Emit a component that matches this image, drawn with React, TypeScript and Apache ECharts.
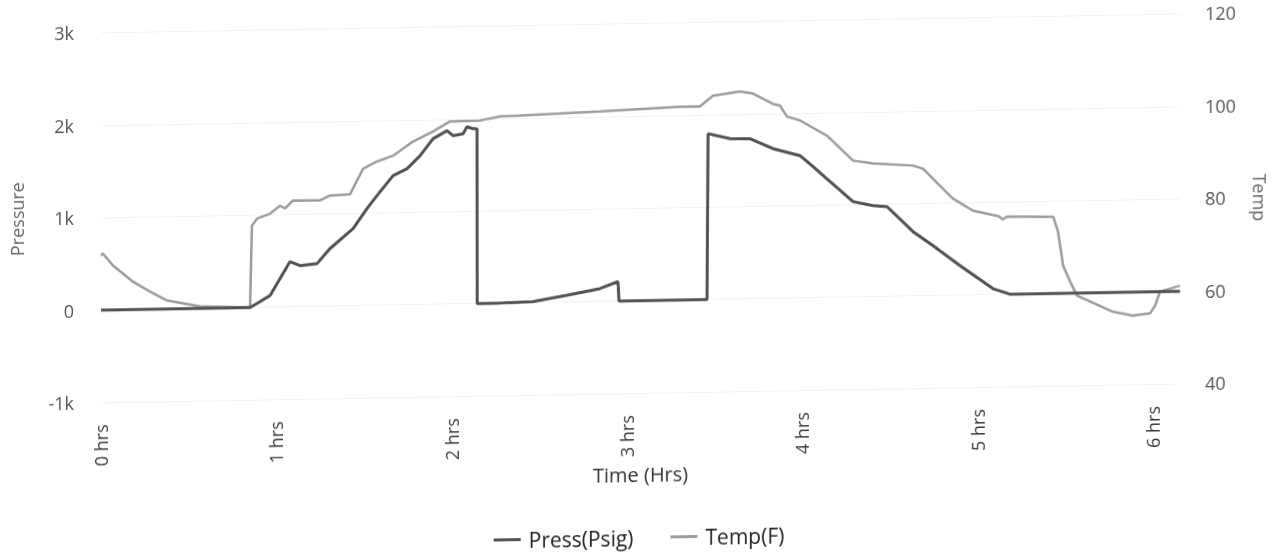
import React, { useEffect, useRef } from "react";
import * as echarts from "echarts";

// Time in hours, pressure in psig (left axis)
const pressHrs = [0, 0.85, 0.878, 0.964, 1.078, 1.135, 1.232, 1.306, 1.438, 1.517, 1.592, 1.666, 1.746, 1.82, 1.894, 1.974, 2.008, 2.065, 2.088, 2.122, 2.145, 2.146, 2.276, 2.464, 2.658, 2.846, 2.949, 2.955, 3.457, 3.463, 3.588, 3.702, 3.833, 3.987, 4.062, 4.141, 4.29, 4.404, 4.484, 4.632, 4.746, 4.9, 5.088, 5.185, 6.155];
const pressPsig = [0, 0, 29, 124, 488, 443, 461, 621, 833, 1047, 1228, 1399, 1473, 1610, 1792, 1876, 1821, 1840, 1915, 1892, 1890, 0, 0, 10, 71, 137, 210, 0, 0, 1794, 1736, 1732, 1620, 1539, 1417, 1284, 1031, 984, 970, 695, 540, 318, 63, 0, 0];

// Time in hours, temperature in F (right axis)
const tempHrs = [0, 0.011, 0.068, 0.183, 0.28, 0.377, 0.565, 0.85, 0.861, 0.89, 0.964, 1.021, 1.05, 1.095, 1.249, 1.306, 1.42, 1.495, 1.574, 1.666, 1.78, 1.894, 1.991, 2.162, 2.276, 2.39, 2.846, 3.302, 3.416, 3.491, 3.645, 3.719, 3.833, 3.873, 3.913, 3.987, 4.141, 4.29, 4.404, 4.632, 4.689, 4.746, 4.86, 4.974, 5.12, 5.145, 5.168, 5.431, 5.459, 5.488, 5.528, 5.568, 5.642, 5.773, 5.887, 5.984, 6.013, 6.041, 6.098, 6.155];
const tempF = [71.8, 72.2, 69.6, 66.0, 63.8, 61.8, 60.4, 60.0, 77.7, 79.2, 80.2, 81.9, 81.3, 83.0, 82.9, 83.9, 84.1, 89.6, 91.1, 92.3, 95.3, 97.4, 99.5, 99.6, 100.4, 100.5, 101.1, 101.8, 101.8, 104.1, 104.9, 104.4, 102.1, 101.7, 99.3, 98.4, 95.0, 89.5, 88.8, 88.2, 87.5, 85.3, 80.9, 78.2, 76.9, 76.2, 76.8, 76.6, 73.4, 66.0, 62.5, 59.4, 58.1, 55.8, 54.9, 55.3, 57.0, 60.0, 60.6, 61.2];

const seriesNames = ["Press(Psig)", "Temp(F)"];
const timeRange = [0, 6.155];
const pressureRange = [-1000, 3000, 1000];
const tempRange = [40, 120, 20];

function pairs(xs: number[], ys: number[]) {
  return xs.map((x, i) => [x, ys[i]]);
}

export default function App() {
  const ref = useRef<HTMLDivElement>(null);
  useEffect(() => {
    if (!ref.current) return;
    const chart = echarts.init(ref.current, null, { renderer: "svg" });
    const font = "Open Sans";
    chart.setOption({
      animation: false,
      backgroundColor: "#ffffff",
      textStyle: { fontFamily: font },
      grid: { left: 101, right: 98, top: 23.5, bottom: 162, containLabel: false },
      legend: {
        data: seriesNames,
        left: "center",
        top: 522,
        icon: "rect",
        itemWidth: 27,
        itemHeight: 3,
        itemGap: 37,
        textStyle: { fontSize: 21, color: "#222", fontFamily: font, padding: [0, 0, 0, 3] },
      },
      xAxis: {
        type: "value",
        min: timeRange[0],
        max: timeRange[1],
        interval: 1,
        name: "Time (Hrs)",
        nameLocation: "middle",
        nameGap: 69,
        nameTextStyle: { fontSize: 20, color: "#333", fontFamily: font },
        axisLine: { show: false },
        axisTick: { show: false },
        splitLine: { show: false },
        axisLabel: {
          rotate: 90,
          margin: 22,
          fontSize: 18,
          color: "#3a3a3a",
          fontFamily: font,
          showMaxLabel: false,
          formatter: (v: number) => `${v} hrs`,
        },
      },
      yAxis: [
        {
          type: "value",
          min: pressureRange[0],
          max: pressureRange[1],
          interval: pressureRange[2],
          name: "Pressure",
          nameLocation: "middle",
          nameRotate: 90,
          nameGap: 75,
          nameTextStyle: { fontSize: 18, color: "#666", fontFamily: font },
          axisLine: { show: false },
          axisTick: { show: false },
          splitLine: { show: true, lineStyle: { color: "#f2f2f2", width: 1 } },
          axisLabel: {
            margin: 27,
            fontSize: 18,
            color: "#555",
            fontFamily: font,
            formatter: (v: number) => (v === 0 ? "0" : `${v / 1000}k`),
          },
        },
        {
          type: "value",
          position: "right",
          min: tempRange[0],
          max: tempRange[1],
          interval: tempRange[2],
          name: "Temp",
          nameLocation: "middle",
          nameRotate: -90,
          nameGap: 71,
          nameTextStyle: { fontSize: 18, color: "#666", fontFamily: font },
          axisLine: { show: false },
          axisTick: { show: false },
          splitLine: { show: false },
          axisLabel: { margin: 25, fontSize: 18, color: "#555", fontFamily: font },
        },
      ],
      series: [
        {
          name: seriesNames[0],
          type: "line",
          yAxisIndex: 0,
          data: pairs(pressHrs, pressPsig),
          showSymbol: false,
          symbol: "none",
          color: "#525252",
          lineStyle: { color: "#525252", width: 3 },
          z: 3,
        },
        {
          name: seriesNames[1],
          type: "line",
          yAxisIndex: 1,
          data: pairs(tempHrs, tempF),
          showSymbol: false,
          symbol: "none",
          color: "#9d9d9d",
          lineStyle: { color: "#9d9d9d", width: 2.5 },
          z: 2,
        },
      ],
    });
    return () => chart.dispose();
  }, []);

  return (
    <div
      ref={ref}
      style={{
        position: "fixed",
        left: 0,
        top: 0,
        width: 1278,
        height: 555,
        transform: "skewY(-1deg)",
        transformOrigin: "639px 277.5px",
      }}
    />
  );
}
